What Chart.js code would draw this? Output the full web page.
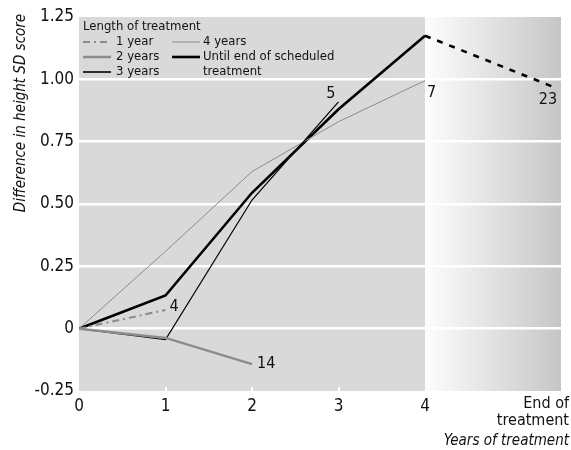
<!DOCTYPE html>
<html>
<head>
<meta charset="utf-8">
<script src="https://cdn.jsdelivr.net/npm/chart.js@4"></script>
<style>
  html, body { margin: 0; padding: 0; background: #ffffff; }
  #wrap { width: 571px; height: 450px; position: relative; }
</style>
</head>
<body>
<div id="wrap"><canvas id="c" width="571" height="450"></canvas></div>
<script>
// ---- data ----
const years = [0, 1, 2, 3, 4];
const endOfTreatmentX = 5.48;          // where "End of treatment" sits on the x axis
const xTickLabels = ['0', '1', '2', '3', '4'];
const endTickLabel = ['End of', 'treatment'];
const yTickLabels = { '-0.25': '-0.25', '0': '0', '0.25': '0.25', '0.5': '0.50', '0.75': '0.75', '1': '1.00', '1.25': '1.25' };

const seriesNames = ['1 year', '2 years', '3 years', '4 years', 'Until end of scheduled\ntreatment'];
const oneYear    = [0, 0.075];
const twoYears   = [0, -0.037, -0.142];
const threeYears = [0, -0.044, 0.516, 0.91];
const fourYears  = [0, 0.31, 0.63, 0.83, 0.995];
const untilEnd   = [0, 0.133, 0.545, 0.88, 1.175, 0.97];
const sampleSizes = ['4', '14', '5', '7', '23'];

const FONT = '"Liberation Sans Narrow", "Arial Narrow", "DejaVu Sans Condensed", sans-serif';

function pts(vals, xs) { return vals.map((v, i) => ({ x: xs[i], y: v })); }
const untilEndX = years.concat([endOfTreatmentX]);

const data = {
  datasets: [
    { label: seriesNames[0], data: pts(oneYear, years), borderColor: '#8a8a8a', borderWidth: 2, borderDash: [7, 4, 2, 4], sizeLabel: sampleSizes[0], lab: { dx: 4, dy: -3, align: 'left' } },
    { label: seriesNames[1], data: pts(twoYears, years), borderColor: '#8c8c8c', borderWidth: 2.5, sizeLabel: sampleSizes[1], lab: { dx: 5, dy: 0, align: 'left' } },
    { label: seriesNames[2], data: pts(threeYears, years), borderColor: '#000000', borderWidth: 1.2, legendWidth: 1.6, sizeLabel: sampleSizes[2], lab: { dx: -3, dy: -8, align: 'right' } },
    { label: seriesNames[3], data: pts(fourYears, years), borderColor: '#8c8c8c', borderWidth: 1, sizeLabel: sampleSizes[3], lab: { dx: 2, dy: 12, align: 'left' } },
    { label: seriesNames[4], data: pts(untilEnd, untilEndX), borderColor: '#000000', borderWidth: 2.6, sizeLabel: sampleSizes[4], lab: { dx: 4, dy: 13, align: 'right' },
      segment: { borderDash: ctx => ctx.p0DataIndex === 4 ? [6, 7] : undefined } }
  ]
};

const decor = {
  id: 'decor',
  beforeDraw(chart) {
    const { ctx, chartArea: a, scales: { x } } = chart;
    const x4 = x.getPixelForValue(4);
    ctx.save();
    ctx.fillStyle = '#d9d9d9';
    ctx.fillRect(a.left, a.top, x4 - a.left, a.bottom - a.top);
    const g = ctx.createLinearGradient(x4, 0, a.right, 0);
    g.addColorStop(0, '#fdfdfd');
    g.addColorStop(1, '#c6c6c6');
    ctx.fillStyle = g;
    ctx.fillRect(x4, a.top, a.right - x4, a.bottom - a.top);
    ctx.restore();
  },
  beforeDatasetsDraw(chart) {
    const { ctx, chartArea: a, scales: { x } } = chart;
    ctx.save();
    ctx.strokeStyle = '#ffffff';
    ctx.lineWidth = 2;
    [1, 2, 3].forEach(v => {
      const px = Math.round(x.getPixelForValue(v));
      ctx.beginPath(); ctx.moveTo(px, a.bottom); ctx.lineTo(px, a.bottom - 4); ctx.stroke();
    });
    ctx.restore();
  },
  afterDraw(chart) {
    const { ctx, chartArea: a, scales: { x, y } } = chart;
    ctx.save();
    ctx.fillStyle = '#111111';
    ctx.textBaseline = 'middle';
    // sample size labels at each series end
    ctx.font = '16px ' + FONT;
    chart.data.datasets.forEach(ds => {
      const last = ds.data[ds.data.length - 1];
      const px = x.getPixelForValue(last.x), py = y.getPixelForValue(last.y);
      ctx.textAlign = ds.lab.align;
      ctx.fillText(ds.sizeLabel, px + ds.lab.dx, py + ds.lab.dy);
    });
    // End of treatment tick label
    ctx.font = '16px ' + FONT;
    ctx.textAlign = 'right';
    ctx.fillText(endTickLabel[0], 569, 404);
    ctx.fillText(endTickLabel[1], 569, 421);
    // axis titles
    ctx.font = 'italic 15px ' + FONT;
    ctx.fillText('Years of treatment', 569, 441);
    ctx.translate(21, 113);
    ctx.rotate(-Math.PI / 2);
    ctx.textAlign = 'center';
    ctx.fillText('Difference in height SD score', 0, 0);
    ctx.restore();

    // legend
    ctx.save();
    ctx.fillStyle = '#111111';
    ctx.textBaseline = 'middle';
    ctx.textAlign = 'left';
    ctx.font = '13px ' + FONT;
    ctx.fillText('Length of treatment', 83, 27);
    const slots = [[83, 42], [83, 57], [83, 72], [172, 42], [172, 57]];
    chart.data.datasets.forEach((ds, i) => {
      const [lx, ly] = slots[i];
      ctx.save();
      ctx.strokeStyle = ds.borderColor;
      ctx.lineWidth = ds.legendWidth || ds.borderWidth;
      ctx.setLineDash(ds.borderDash || []);
      ctx.beginPath(); ctx.moveTo(lx, ly); ctx.lineTo(lx + 28, ly); ctx.stroke();
      ctx.restore();
      ds.label.split('\n').forEach((t, k) => ctx.fillText(t, lx + (i < 3 ? 33 : 31), ly + k * 15));
    });
    ctx.restore();
  }
};

new Chart(document.getElementById('c'), {
  type: 'line',
  data,
  options: {
    responsive: false,
    animation: false,
    events: [],
    layout: { padding: { top: 17, right: 10, left: 0, bottom: 0 } },
    elements: { point: { radius: 0 }, line: { tension: 0, fill: false } },
    plugins: { legend: { display: false }, tooltip: { enabled: false }, title: { display: false } },
    scales: {
      x: {
        type: 'linear', min: 0, max: 5.572,
        afterBuildTicks: s => { s.ticks = years.map(v => ({ value: v })); },
        afterFit: s => { s.height = 59; },
        grid: { display: false, drawTicks: false },
        border: { display: false },
        ticks: { padding: 5, color: '#111111', font: { family: FONT, size: 17 }, maxRotation: 0, autoSkip: false,
          callback: (v) => xTickLabels[years.indexOf(v)] }
      },
      y: {
        min: -0.25, max: 1.25,
        afterBuildTicks: s => { s.ticks = Object.keys(yTickLabels).map(k => ({ value: parseFloat(k) })); },
        afterFit: s => { s.width = 79; },
        grid: { drawTicks: false, lineWidth: 2.5,
          color: c => (c.tick && (c.tick.value === -0.25 || c.tick.value === 1.25)) ? 'rgba(0,0,0,0)' : '#ffffff' },
        border: { display: false },
        ticks: { padding: 5, color: '#111111', font: { family: FONT, size: 17 },
          callback: v => yTickLabels[String(v)] }
      }
    }
  },
  plugins: [decor]
});
</script>
</body>
</html>
